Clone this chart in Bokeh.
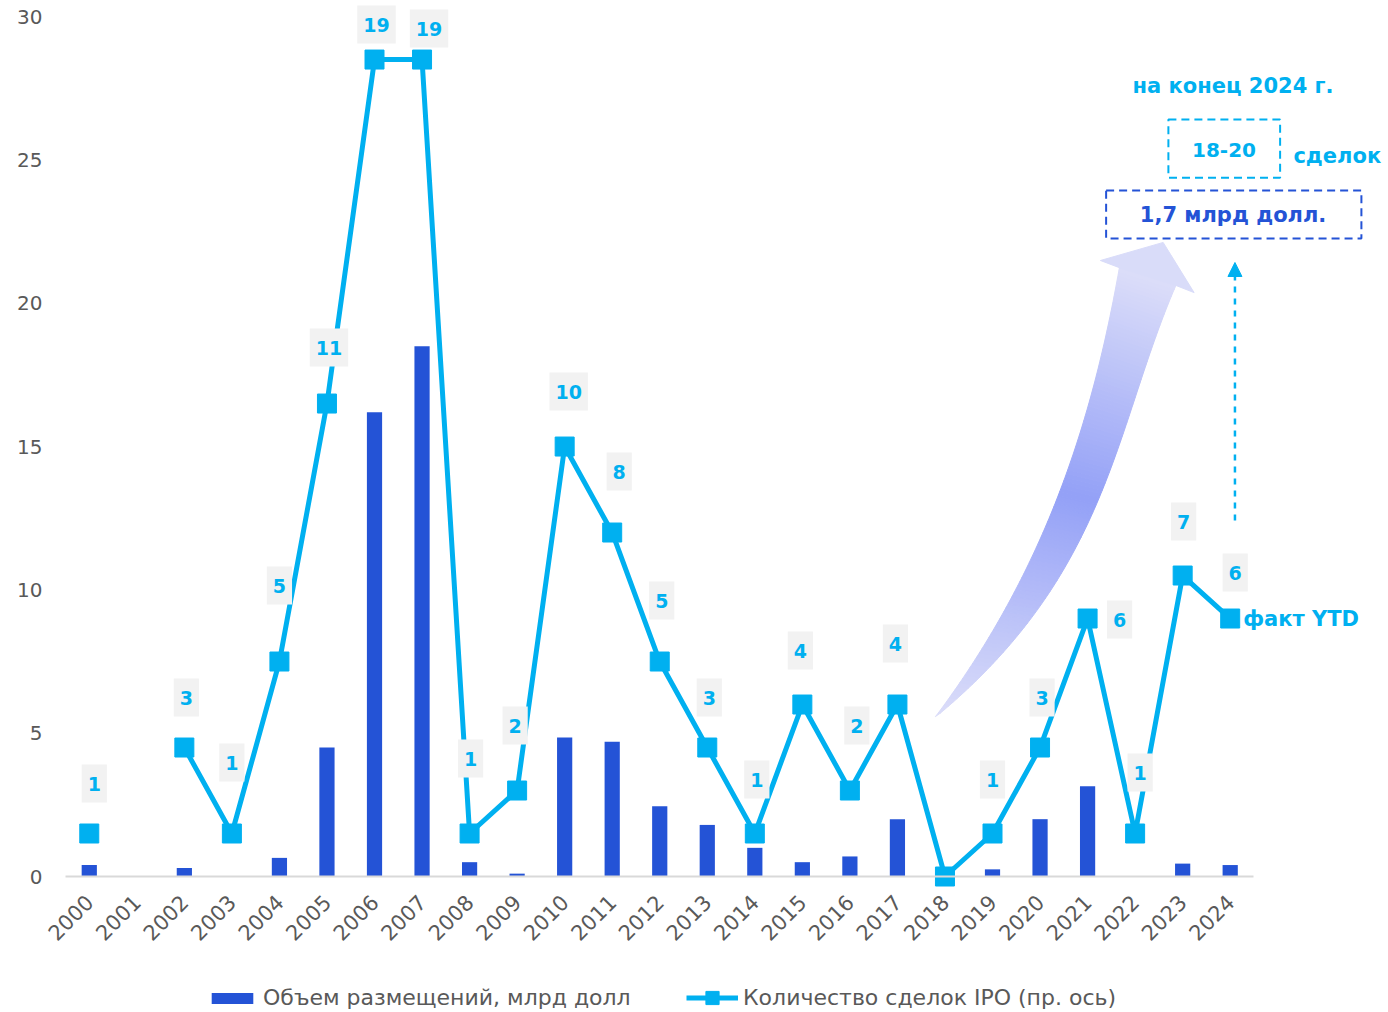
import math
import numpy as np
from bokeh.plotting import figure
from bokeh.models import (Range1d, FixedTicker, Legend, LegendItem, BoxAnnotation,
                          Arrow, NormalHead, ColumnDataSource, Label)
from bokeh.core.properties import value
from bokeh.embed import file_html
from bokeh.resources import INLINE

# ---------------- data ----------------
years = [str(y) for y in range(2000, 2025)]
volume = [0.4, 0, 0.3, 0, 0.65, 4.5, 16.2, 18.5, 0.5, 0.1, 4.85, 4.7, 2.45, 1.8,
          1.0, 0.5, 0.7, 2.0, 0, 0.25, 2.0, 3.15, 0, 0.45, 0.4]
deals = [1, None, 3, 1, 5, 11, 19, 19, 1, 2, 10, 8, 5, 3, 1, 4, 2, 4, 0, 1, 3, 6,
         1, 7, 6]
y_ticks = [0, 5, 10, 15, 20, 25, 30]
bar_label = "Объем размещений, млрд долл"
line_label = "Количество сделок IPO (пр. ось)"
forecast_title = "на конец 2024 г."
forecast_deals = "18-20"
forecast_deals_unit = "сделок"
forecast_volume = "1,7 млрд долл."
ytd_label = "факт YTD"

# label placement (pixel offsets of value labels, style only)
label_dx = [5, 0, 2, 0, 0, 2, 2, 7, 1, -2, 4, 7, 2, 2, 2, -2, 7, -2, 0, 0, 2, 32, 5, 1, 5]
label_dy = [-50, 0, -50, -71, -76, -56, -35, -31, -75, -65, -55, -61, -61, -50, -54,
            -54, -65, -61, 0, -54, -50, 1, -61, -54, -46]

# ---------------- style ----------------
FONT = "DejaVu Sans"
CYAN = "#00B0F0"
BLUE = "#2453D6"
GREY = "#595959"
AXIS_GREY = "#D9D9D9"
SCALE = 1.5  # left axis units per deal (secondary axis 0..20 vs 0..30)

x_idx = list(range(len(years)))
y_top = 30.56
y_bot = -4.744

p = figure(width=1388, height=1012, output_backend="svg", toolbar_location=None,
           x_range=Range1d(-1.026, 27.33), y_range=Range1d(y_bot, y_top),
           min_border_left=40, min_border_right=0, min_border_top=0,
           min_border_bottom=0)
p.extra_y_ranges = {"cnt": Range1d(y_bot / SCALE, y_top / SCALE)}
p.outline_line_color = None
p.xgrid.visible = False
p.ygrid.visible = False
p.background_fill_color = "white"
p.border_fill_color = "white"

# ---- gradient curved arrow (annotation) ----
left_x = [17.80, 18.53, 19.52, 20.28, 20.78, 21.20, 21.67]
left_y = [5.58, 7.29, 10.08, 13.01, 14.97, 17.65, 21.24]
right_x = [17.80, 19.23, 20.28, 21.27, 21.96, 22.38, 22.84]
right_y = [5.58, 7.78, 10.08, 13.57, 16.36, 18.45, 20.62]
lfit = np.polyfit(left_y, left_x, 3)
rfit = np.polyfit(right_y, right_x, 3)
light = np.array([0xDC, 0xDE, 0xF9])
strong = np.array([0x93, 0xA0, 0xF7])
N = 120
xs, ys, cols = [], [], []
for k in range(N):
    f0, f1 = k / N, (k + 1) / N
    ly0 = left_y[0] + f0 * (left_y[-1] - left_y[0])
    ly1 = left_y[0] + f1 * (left_y[-1] - left_y[0])
    ry0 = right_y[0] + f0 * (right_y[-1] - right_y[0])
    ry1 = right_y[0] + f1 * (right_y[-1] - right_y[0])
    lx0, lx1 = np.polyval(lfit, ly0), np.polyval(lfit, ly1)
    rx0, rx1 = np.polyval(rfit, ry0), np.polyval(rfit, ry1)
    if k == 0:
        lx0 = rx0 = left_x[0]
    xs.append([lx0, lx1, rx1, rx0])
    ys.append([ly0, ly1, ry1, ry0])
    t = (f0 + f1) / 2
    w = 1 - abs(2 * t - 1)
    c = light + (strong - light) * w
    cols.append("#%02x%02x%02x" % tuple(int(round(v)) for v in c))
p.patches(xs=xs, ys=ys, fill_color=cols, line_color=cols, line_width=1)
p.patch(x=[21.27, 22.59, 23.24, float(np.polyval(rfit, right_y[-1])), float(np.polyval(lfit, left_y[-1]))],
        y=[21.49, 22.12, 20.37, right_y[-1], left_y[-1]],
        fill_color="#D9DCF9", line_color="#D9DCF9", line_width=1)

# ---- bars ----
bars = p.vbar(x=x_idx, top=volume, width=0.32, fill_color=BLUE, line_color=None)

# ---- line (secondary axis) ----
deals_arr = [np.nan if d is None else d for d in deals]
src = ColumnDataSource(dict(x=x_idx, y=deals_arr))
line_r = p.line("x", "y", source=src, y_range_name="cnt", line_color=CYAN, line_width=5)
sc_r = p.scatter("x", "y", source=src, y_range_name="cnt", marker="square", size=19,
                 fill_color=CYAN, line_color=CYAN)

# ---- value labels ----
lab = dict(x=[], y=[], t=[], dx=[], dy=[])
for i, d in enumerate(deals):
    if d is None or d == 0:
        continue
    lab["x"].append(i)
    lab["y"].append(d)
    lab["t"].append(str(d))
    lab["dx"].append(label_dx[i])
    lab["dy"].append(label_dy[i])
p.text(x="x", y="y", text="t", x_offset="dx", y_offset="dy", source=ColumnDataSource(lab),
       y_range_name="cnt", text_align="center", text_baseline="middle",
       text_font=value(FONT), text_font_style="bold", text_font_size="19px",
       text_color=CYAN, background_fill_color="#F2F2F2", padding=(6, 12))

# "факт YTD" next to last point
p.text(x=[x_idx[-1]], y=[deals[-1]], text=[ytd_label], x_offset=13, y_range_name="cnt",
       text_align="left", text_baseline="middle", text_font=value(FONT),
       text_font_style="bold", text_font_size="21px", text_color=CYAN)

# ---- forecast annotations ----
p.add_layout(BoxAnnotation(left=22.70, right=25.05, bottom=24.38, top=26.41,
                           fill_color=None, line_color=CYAN, line_alpha=1.0,
                           line_width=2, line_dash="8 5"))
p.add_layout(BoxAnnotation(left=21.39, right=26.76, bottom=22.26, top=23.93,
                           fill_color=None, line_color=BLUE, line_alpha=1.0,
                           line_width=2, line_dash="8 5"))
p.add_layout(Label(x=24.06, y=27.59, text=forecast_title, text_align="center",
                   text_baseline="middle", text_font=FONT, text_font_style="bold",
                   text_font_size="21px", text_color=CYAN))
p.add_layout(Label(x=23.87, y=25.36, text=forecast_deals, text_align="center",
                   text_baseline="middle", text_font=FONT, text_font_style="bold",
                   text_font_size="20px", text_color=CYAN))
p.add_layout(Label(x=25.33, y=25.12, text=forecast_deals_unit, text_align="left",
                   text_baseline="middle", text_font=FONT, text_font_style="bold",
                   text_font_size="21px", text_color=CYAN))
p.add_layout(Label(x=24.06, y=23.06, text=forecast_volume, text_align="center",
                   text_baseline="middle", text_font=FONT, text_font_style="bold",
                   text_font_size="21px", text_color=BLUE))
p.add_layout(Arrow(end=NormalHead(size=14, fill_color=CYAN, line_color=CYAN),
                   x_start=24.1, y_start=12.42, x_end=24.1, y_end=21.42,
                   line_color=CYAN, line_width=2.5, line_dash="6 6"))

# ---- axes ----
xa = p.xaxis[0]
xa.fixed_location = 0
xa.ticker = FixedTicker(ticks=x_idx)
xa.major_label_overrides = {i: y for i, y in enumerate(years)}
xa.major_label_orientation = math.pi / 4
xa.bounds = (-0.5, len(years) - 0.5)
xa.axis_line_color = AXIS_GREY
xa.axis_line_width = 2
xa.major_tick_line_color = None
xa.minor_tick_line_color = None
xa.major_tick_out = 0
xa.major_label_standoff = 22
xa.major_label_text_font = FONT
xa.major_label_text_font_size = "21px"
xa.major_label_text_color = GREY

ya = p.yaxis[0]
ya.ticker = FixedTicker(ticks=y_ticks)
ya.axis_line_color = None
ya.major_tick_line_color = None
ya.minor_tick_line_color = None
ya.major_tick_out = 0
ya.major_label_standoff = -2
ya.major_label_text_font = FONT
ya.major_label_text_font_size = "20px"
ya.major_label_text_color = GREY

# ---- legends (inside the frame's lower strip) ----
leg_common = dict(orientation="horizontal", label_text_font=FONT,
                  label_text_font_size="22px", label_text_color=GREY,
                  border_line_color=None, background_fill_alpha=0,
                  label_standoff=5, padding=0, margin=0, glyph_width=52)
leg1 = Legend(items=[LegendItem(label=bar_label, renderers=[bars])],
              location=(166, 2), glyph_height=14, **leg_common)
leg2 = Legend(items=[LegendItem(label=line_label, renderers=[line_r, sc_r])],
              location=(646, -2), glyph_height=33, **leg_common)
p.add_layout(leg1, "center")
p.add_layout(leg2, "center")

open("out.html", "w").write(file_html(p, INLINE))
